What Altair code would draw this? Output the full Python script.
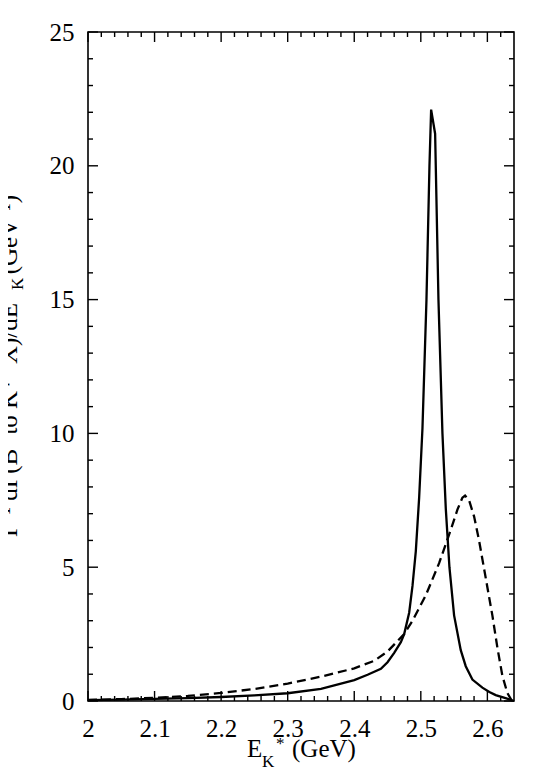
import altair as alt
import pandas as pd

# ---- data ----
solid_x = [2.00, 2.05, 2.10, 2.15, 2.20, 2.25, 2.30, 2.35, 2.40, 2.42, 2.44, 2.45,
           2.46, 2.47, 2.475, 2.4825, 2.4875, 2.4925, 2.4975, 2.5025, 2.5085,
           2.513, 2.5155, 2.5215, 2.5265, 2.5325, 2.5375, 2.543, 2.55, 2.56,
           2.5675, 2.5775, 2.5925, 2.603, 2.6125, 2.6285, 2.64]
solid_y = [0.03, 0.05, 0.08, 0.11, 0.15, 0.21, 0.29, 0.45, 0.78, 0.98, 1.2, 1.45,
           1.8, 2.2, 2.5, 3.3, 4.3, 5.6, 7.6, 10.2, 15.0,
           20.0, 22.1, 21.2, 15.0, 10.0, 7.2, 5.0, 3.2, 1.9,
           1.3, 0.8, 0.5, 0.34, 0.22, 0.1, 0.0]

dashed_x = [2.00, 2.05, 2.10, 2.15, 2.20, 2.25, 2.30, 2.35, 2.40, 2.43, 2.45,
            2.475, 2.4875, 2.5075, 2.5275, 2.545, 2.555, 2.5625, 2.5665, 2.5725,
            2.58, 2.5875, 2.5975, 2.6075, 2.615, 2.6225, 2.63, 2.637]
dashed_y = [0.04, 0.07, 0.12, 0.19, 0.30, 0.45, 0.65, 0.91, 1.22, 1.5, 1.85,
            2.5, 3.0, 3.95, 5.15, 6.4, 7.15, 7.6, 7.68, 7.5,
            6.9, 6.0, 4.6, 3.2, 2.0, 0.95, 0.3, 0.0]

x_major = [2.0, 2.1, 2.2, 2.3, 2.4, 2.5, 2.6]
x_minor = [2.02, 2.04, 2.06, 2.08, 2.12, 2.14, 2.16, 2.18, 2.22, 2.24, 2.26, 2.28,
           2.32, 2.34, 2.36, 2.38, 2.42, 2.44, 2.46, 2.48, 2.52, 2.54, 2.56, 2.58,
           2.62]
y_major = [0, 5, 10, 15, 20, 25]
y_minor = [1, 2, 3, 4, 6, 7, 8, 9, 11, 12, 13, 14, 16, 17, 18, 19, 21, 22, 23, 24]

# ---- layout / style ----
W, H = 426, 669
FONT = "Liberation Serif, Times New Roman, Times, serif"
MAJ, MIN = 10, 5

xs = alt.Scale(domain=[2.0, 2.64], nice=False, zero=False)
ys = alt.Scale(domain=[0, 25], nice=False, zero=False)

x_axis = alt.Axis(values=x_major, format="~g", title=None, ticks=False, tickSize=0,
                  domain=False, grid=False, labelFont=FONT, labelFontSize=25,
                  labelColor="black", labelPadding=35, labelBaseline="alphabetic",
                  labelFlush=False, labelOverlap=False)
y_axis = alt.Axis(values=y_major, title=None, ticks=False, tickSize=0,
                  domain=False, grid=False, labelFont=FONT, labelFontSize=25,
                  labelColor="black", labelPadding=14, labelFlush=False,
                  labelOverlap=False)


def X():
    return alt.X("E:Q", scale=xs, axis=x_axis)


def Y():
    return alt.Y("rate:Q", scale=ys, axis=y_axis)


solid_df = pd.DataFrame({"E": solid_x, "rate": solid_y})
dashed_df = pd.DataFrame({"E": dashed_x, "rate": dashed_y})

solid = alt.Chart(solid_df).mark_line(color="black", strokeWidth=2.3).encode(
    x=X(), y=Y(), order="E:Q")
dashed = alt.Chart(dashed_df).mark_line(color="black", strokeWidth=2.3,
                                        strokeDash=[9, 5]).encode(
    x=X(), y=Y(), order="E:Q")


def xticks(vals, length):
    df = pd.DataFrame({"E": vals})
    bottom = alt.Chart(df).mark_rule(color="black", strokeWidth=1.4).encode(
        x=X(), y=alt.value(H), y2=alt.value(H - length))
    top = alt.Chart(df).mark_rule(color="black", strokeWidth=1.4).encode(
        x=X(), y=alt.value(0), y2=alt.value(length))
    return [bottom, top]


def yticks(vals, length):
    df = pd.DataFrame({"rate": vals})
    left = alt.Chart(df).mark_rule(color="black", strokeWidth=1.4).encode(
        y=Y(), x=alt.value(0), x2=alt.value(length))
    right = alt.Chart(df).mark_rule(color="black", strokeWidth=1.4).encode(
        y=Y(), x=alt.value(W), x2=alt.value(W - length))
    return [left, right]


def label(txt, x, y, size, angle=0, align="left"):
    return alt.Chart(pd.DataFrame({"t": [txt]})).mark_text(
        font=FONT, fontSize=size, align=align, baseline="alphabetic",
        angle=angle, color="black").encode(
        x=alt.value(x), y=alt.value(y), text="t:N")


texts = [
    # x title  E_K* (GeV)
    label("E", 159, 725, 25),
    label("K", 174, 735, 17),
    label("*", 188, 717, 17),
    label("(GeV)", 204, 725, 25),
    # y title  Γ⁻¹ dΓ(B⁻ to K*⁻ X)/dE_K* (GeV⁻¹)
    label("Γ⁻¹ dΓ(B⁻ to K*⁻ X)/dE", -71, 505, 25, angle=270, align="left"),
    label("K", -65, 258, 17, angle=270, align="left"),
    label("*", -82, 258, 17, angle=270, align="left"),
    label("(GeV⁻¹)", -71, 163, 25, angle=270, align="right"),
]

layers = (xticks(x_major, MAJ) + xticks(x_minor, MIN) +
          yticks(y_major, MAJ) + yticks(y_minor, MIN) +
          [solid, dashed] + texts)

chart = alt.layer(*layers).properties(
    width=W, height=H,
    autosize=alt.AutoSizeParams(type="none"),
    padding={"left": 80, "top": 24, "right": 15, "bottom": 70},
    background="white",
).configure_view(stroke="black", strokeWidth=1.6)

chart.save("out.html", embed_options={"renderer": "svg", "actions": False})
